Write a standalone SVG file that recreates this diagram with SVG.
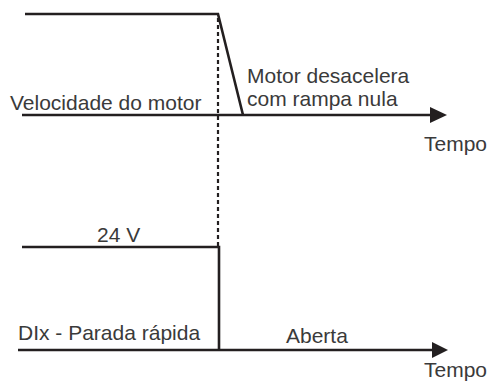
<svg xmlns="http://www.w3.org/2000/svg" width="490" height="382" viewBox="0 0 490 382">
<style>
.ln{fill:none;stroke:#231f20;stroke-width:2.6;stroke-linejoin:miter}
.dot{fill:none;stroke:#231f20;stroke-width:2.2;stroke-dasharray:4 3}
.ah{fill:#231f20}
.t{font-family:"Liberation Sans",Arial,sans-serif;font-size:21px;fill:#3a3a3a}
</style>
<rect width="490" height="382" fill="#fff"/>
<g id="speed">
<path class="ln" d="M25,14 H218 L243,115"/>
<path class="ln" d="M22,115 H432"/>
<polygon class="ah" points="430,107 447,115 430,123"/>
<text class="t" x="10" y="110">Velocidade do motor</text>
<text class="t" x="247" y="83">Motor desacelera</text>
<text class="t" x="247" y="106">com rampa nula</text>
<text class="t" x="424" y="151">Tempo</text>
</g>
<g id="marker">
<path class="dot" d="M218,18 V246"/>
</g>
<g id="input">
<path class="ln" d="M22,247 H219 V350"/>
<path class="ln" d="M18,350 H434"/>
<polygon class="ah" points="432,342 448,350 432,358"/>
<text class="t" x="97" y="242">24 V</text>
<text class="t" x="18" y="340">DIx - Parada rápida</text>
<text class="t" x="286" y="343">Aberta</text>
<text class="t" x="424" y="377">Tempo</text>
</g>
</svg>
